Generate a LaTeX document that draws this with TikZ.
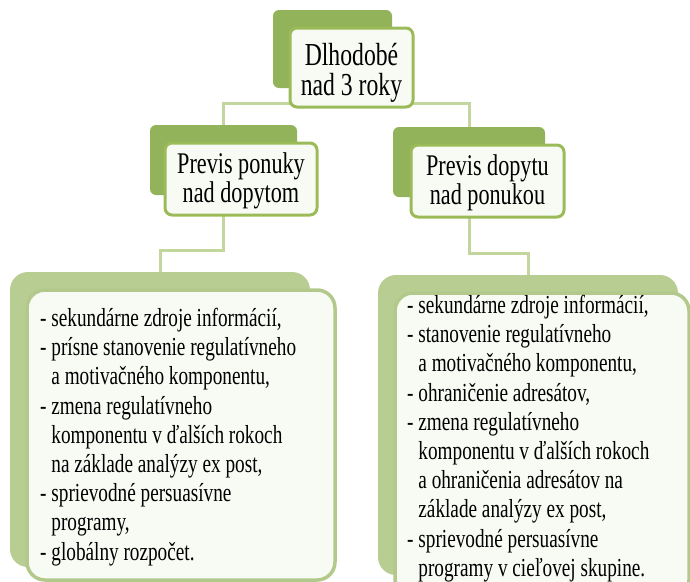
\documentclass[tikz,border=0pt]{standalone}
\usepackage{fontspec}
\setmainfont{Liberation Serif}[FakeStretch=0.74]
\usetikzlibrary{backgrounds}
\definecolor{backdark}{HTML}{93B35A}
\definecolor{backlight}{HTML}{B8CD92}
\definecolor{frameg}{HTML}{9BBB59}
\definecolor{framelight}{HTML}{B3C98C}
\definecolor{connc}{HTML}{C3D69E}
\definecolor{paper}{HTML}{F8FAF4}
\newcommand{\ind}{\hphantom{- }}
\begin{document}
\begin{tikzpicture}[x=1pt,y=-1pt,
  backbox/.style={draw=none,fill=backdark,rounded corners=6pt,inner sep=0pt},
  frontbox/.style={draw=frameg,line width=3pt,fill=paper,rounded corners=7pt,inner sep=0pt},
  bigback/.style={draw=none,fill=backlight,rounded corners=18pt,inner sep=0pt},
  bigfront/.style={draw=framelight,line width=3.5pt,fill=paper,rounded corners=18pt,inner sep=0pt},
  conn/.style={draw=connc,line width=3pt},
  titletext/.style={inner sep=0pt,align=center,font=\fontsize{32}{30}\selectfont},
  midtext/.style={inner sep=0pt,align=center,font=\fontsize{30}{29}\selectfont},
  bodytext/.style={inner sep=0pt,anchor=north west,align=left,font=\fontsize{26}{29.2}\selectfont}]
\clip (0,0) rectangle (690,581);

% top
\node[backbox,minimum width=119pt,minimum height=78pt] (tback) at (332.5,49) {};
\node[frontbox,minimum width=123pt,minimum height=79pt] (tfront) at (351.5,67.5) {};
\node[titletext] (ttext) at (351.5,73) {Dlhodobé\\nad 3 roky};

% middle left
\node[backbox,minimum width=147pt,minimum height=70pt] (lmback) at (223.5,160) {};
\node[frontbox,minimum width=152pt,minimum height=72pt] (lmfront) at (241,179) {};
\node[midtext] (lmtext) at (241,181) {Previs ponuky\\nad dopytom};

% middle right
\node[backbox,minimum width=152pt,minimum height=70pt] (rmback) at (469,162) {};
\node[frontbox,minimum width=153pt,minimum height=72pt] (rmfront) at (487.5,181) {};
\node[midtext] (rmtext) at (487.5,183) {Previs dopytu\\nad ponukou};

% bottom left
\node[bigback,minimum width=300pt,minimum height=295pt] (lbback) at (160,419.5) {};
\node[bigfront,minimum width=308pt,minimum height=290pt] (lbfront) at (181,435) {};
\node[bodytext] (lbtext) at (40,308) {- sekundárne zdroje informácií,\\
- prísne stanovenie regulatívneho\\
\ind a motivačného komponentu,\\
- zmena regulatívneho\\
\ind komponentu v ďalších rokoch\\
\ind na základe analýzy ex post,\\
- sprievodné persuasívne\\
\ind programy,\\
- globálny rozpočet.};

% bottom right
\node[bigback,minimum width=300pt,minimum height=300pt] (rbback) at (528,425) {};
\node[bigfront,minimum width=294pt,minimum height=305pt] (rbfront) at (542,445.5) {};
\node[bodytext] (rbtext) at (407,295) {- sekundárne zdroje informácií,\\
- stanovenie regulatívneho\\
\ind a motivačného komponentu,\\
- ohraničenie adresátov,\\
- zmena regulatívneho\\
\ind komponentu v ďalších rokoch\\
\ind a ohraničenia adresátov na\\
\ind základe analýzy ex post,\\
- sprievodné persuasívne\\
\ind programy v cieľovej skupine.};

\begin{scope}[on background layer]
\coordinate (hubT) at (351,103);
\coordinate (elbL) at (192,250);
\coordinate (elbR) at (500,253);
\draw[conn] (lmback.north) |- (hubT) -| (rmback.north);
\draw[conn] (lmback.center) |- (elbL) -| (lbback.north);
\draw[conn] (rmback.center) |- (elbR) -| (rbback.north);
\end{scope}
\end{tikzpicture}
\end{document}
